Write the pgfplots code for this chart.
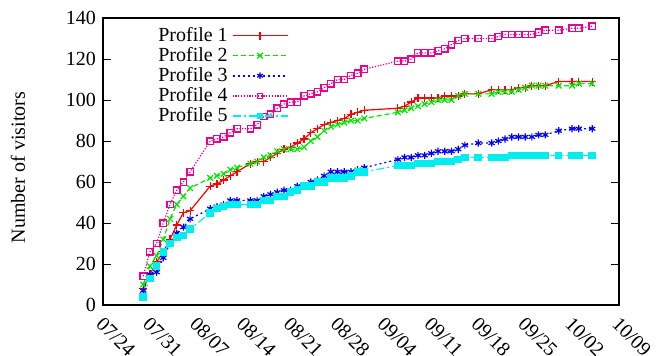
\documentclass[border=0pt]{standalone}
\usepackage{pgfplots}
\pgfplotsset{compat=1.18}
\usepackage{pgfplotstable}
\usepackage{fontspec}
\setmainfont{Liberation Serif}
\definecolor{pgreen}{RGB}{0,230,0}
\definecolor{pcyan}{RGB}{0,238,238}
\pgfplotstableread{
d p1 p2 p3 p4 p5
6 8 10 7 14 4
7 15 19 15 26 13
8 21 24 16 30 19
9 26 32 23 40 26
10 32 42 30 49 30
11 39 49 35 56 33
12 45 53 38 60 34
13 46 57 42 65 37
16 58 62 47 80 45
17 59 63 48 81 47
18 61 64 49 82 48
19 63 66 51 84 49
20 65 67 51 86 49
22 69 69 51 86 49
23 70 70 51 88 49
24 70 72 53 92 51
25 72 73 54 93 51
26 74 75 55 96 53
27 76 76 56 98 53
28 77 76 56 99 55
29 79 76 58 99 56
30 81 77 58 102 58
31 84 80 60 103 58
32 86 82 61 104 60
33 88 85 63 106 60
34 89 87 65 108 62
35 90 88 65 110 62
36 91 89 65 110 62
37 93 90 65 112 63
38 94 90 66 113 65
39 95 91 67 115 65
44 96 94 71 119 68
45 97 95 72 119 68
46 99 96 72 120 68
47 101 97 73 123 69
48 101 98 73 123 69
49 101 99 74 123 69
50 101 100 75 124 70
51 102 100 75 125 70
52 102 100 75 127 70
53 102 102 76 129 71
54 103 103 78 130 72
56 103 103 79 130 72
58 105 103 79 130 72
59 105 104 80 131 72
60 105 104 81 132 72
61 105 104 82 132 73
62 106 105 82 132 73
63 106 106 82 132 73
64 107 107 82 132 73
65 107 107 83 133 73
66 107 107 83 134 73
68 109 107 85 134 73
70 109 107 86 135 73
71 109 108 86 135 73
73 109 108 86 136 73
}\datatable
\begin{document}
\begin{tikzpicture}
\useasboundingbox (-51.5pt,-25pt) rectangle (276.5pt,152.5pt);
\begin{axis}[
  at={(0,0)}, anchor=south west,
  scale only axis, width=258pt, height=143.5pt,
  xmin=0, xmax=77, ymin=0, ymax=140,
  xtick={0,7,...,77},
  xticklabels={07/24,07/31,08/07,08/14,08/21,08/28,09/04,09/11,09/18,09/25,10/02,10/09},
  ytick={0,20,...,140},
  x tick style={draw=none},
  y tick style={black, line width=0.5pt},
  major tick length=4pt,
  ytick pos=both, yticklabel pos=left,
  xticklabel style={rotate=-45, anchor=north west, font=\normalsize, xshift=1pt, yshift=0pt},
  yticklabel style={font=\normalsize},
  /pgf/number format/assume math mode=true,
  axis line style={line width=0.6pt},
  ylabel={Number of visitors},
  ylabel style={at={(axis description cs:-0.1647,0.479)}, anchor=center},
  legend cell align=right,
  legend plot pos=right,
  legend style={draw=none, fill=none, at={(0.360,0.984)}, anchor=north east, row sep=-2.5pt, font=\normalsize, inner sep=0pt},
  every axis plot/.append style={line width=0.6pt, mark size=2pt},
]
\addplot[color=red, solid, mark=+, mark options={solid, line width=0.6pt},
  legend image code/.code={
    \draw[color=red, line width=0.8pt] (10pt,0pt) -- (37.5pt,0pt);
    \draw[color=red, line width=0.7pt] plot[mark=+, mark size=2pt] coordinates {(23.75pt,0pt)};}
  ] table[x=d, y=p1] {\datatable};
\addlegendentry{Profile 1}
\addplot[color=pgreen, dash pattern=on 2.5pt off 1.5pt, mark=x, mark options={solid, line width=0.6pt},
  legend image code/.code={
    \draw[color=pgreen, line width=0.8pt, dash pattern=on 2.5pt off 1.5pt] (10pt,0pt) -- (37.5pt,0pt);
    \draw[color=pgreen, solid, line width=0.7pt] plot[mark=x, mark size=2pt] coordinates {(23.75pt,0pt)};}
  ] table[x=d, y=p2] {\datatable};
\addlegendentry{Profile 2}
\addplot[color=blue, dash pattern=on 1pt off 1.5pt, mark=asterisk, mark options={solid, line width=0.6pt, scale=0.9},
  legend image code/.code={
    \draw[color=blue, line width=0.8pt, dash pattern=on 1pt off 1.5pt] (10pt,0pt) -- (37.5pt,0pt);
    \draw[color=blue, solid, line width=0.7pt] plot[mark=asterisk, mark size=1.8pt] coordinates {(23.75pt,0pt)};}
  ] table[x=d, y=p3] {\datatable};
\addlegendentry{Profile 3}
\addplot[color=magenta, dash pattern=on 0.6pt off 0.8pt, mark=square, mark options={solid, line width=0.7pt, scale=0.8},
  legend image code/.code={
    \draw[color=magenta, line width=0.75pt, dash pattern=on 0.6pt off 0.8pt] (10pt,0pt) -- (37.5pt,0pt);
    \draw[color=magenta, solid, line width=0.7pt] plot[mark=square, mark size=1.6pt] coordinates {(23.75pt,0pt)};}
  ] table[x=d, y=p4] {\datatable};
\addlegendentry{Profile 4}
\addplot[color=pcyan, dash pattern=on 4pt off 1.5pt on 1pt off 1.5pt, mark=square*, mark options={solid, scale=0.8},
  legend image code/.code={
    \draw[color=pcyan, line width=0.75pt, dash pattern=on 4pt off 1.5pt on 1pt off 1.5pt] (10pt,0pt) -- (37.5pt,0pt);
    \draw[color=pcyan, fill=pcyan, solid, line width=0.6pt] plot[mark=square*, mark size=1.6pt] coordinates {(23.75pt,0pt)};}
  ] table[x=d, y=p5] {\datatable};
\addlegendentry{Profile 5}
\end{axis}
\end{tikzpicture}
\end{document}
